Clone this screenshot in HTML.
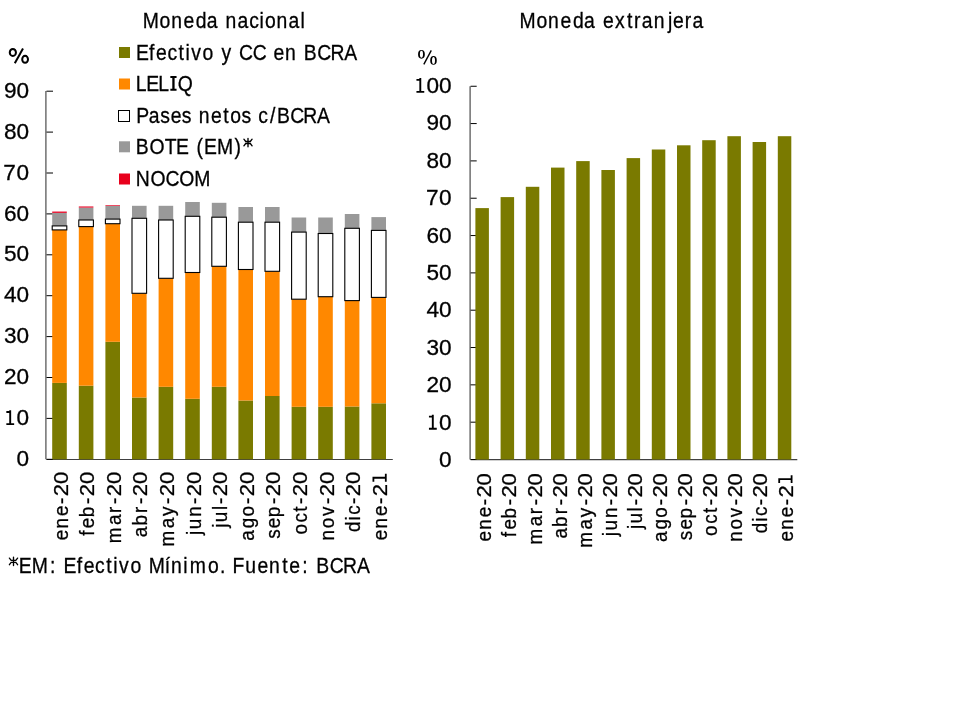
<!DOCTYPE html>
<html><head><meta charset="utf-8"><style>
html,body{margin:0;padding:0;background:#fff;width:960px;height:720px;overflow:hidden}
svg{display:block;will-change:transform}
text{font-family:"Liberation Sans",sans-serif;fill:#000;stroke:#000;stroke-width:0.3px}
.t21{font-size:21px}
.t20{font-size:20px}
.t19s{font-family:"Liberation Serif",serif;font-size:20px}
</style></head><body>
<svg width="960" height="720" viewBox="0 0 960 720">
<line x1="45.9" y1="91" x2="45.9" y2="459.3" stroke="#585858" stroke-width="1.3"/>
<line x1="46.5" y1="459.5" x2="392.8" y2="459.5" stroke="#404040" stroke-width="1.2"/>
<line x1="46.5" y1="459.30" x2="53" y2="459.30" stroke="#000" stroke-width="1"/>
<line x1="46.5" y1="418.40" x2="53" y2="418.40" stroke="#000" stroke-width="1"/>
<line x1="46.5" y1="377.50" x2="53" y2="377.50" stroke="#000" stroke-width="1"/>
<line x1="46.5" y1="336.60" x2="53" y2="336.60" stroke="#000" stroke-width="1"/>
<line x1="46.5" y1="295.70" x2="53" y2="295.70" stroke="#000" stroke-width="1"/>
<line x1="46.5" y1="254.80" x2="53" y2="254.80" stroke="#000" stroke-width="1"/>
<line x1="46.5" y1="213.90" x2="53" y2="213.90" stroke="#000" stroke-width="1"/>
<line x1="46.5" y1="173.00" x2="53" y2="173.00" stroke="#000" stroke-width="1"/>
<line x1="46.5" y1="132.10" x2="53" y2="132.10" stroke="#000" stroke-width="1"/>
<line x1="46.5" y1="91.20" x2="53" y2="91.20" stroke="#000" stroke-width="1"/>
<rect x="52.20" y="382.9" width="14.6" height="76.40" fill="#7a7a00"/>
<rect x="52.20" y="229.9" width="14.6" height="153.00" fill="#ff8800"/>
<rect x="52.20" y="213.0" width="14.6" height="12.90" fill="#999999"/>
<rect x="52.20" y="211.5" width="14.6" height="1.50" fill="#e8203c"/>
<rect x="52.20" y="225.9" width="14.6" height="4.00" fill="#fff" stroke="#000" stroke-width="1.1"/>
<rect x="78.80" y="385.7" width="14.6" height="73.60" fill="#7a7a00"/>
<rect x="78.80" y="226.6" width="14.6" height="159.10" fill="#ff8800"/>
<rect x="78.80" y="207.7" width="14.6" height="12.30" fill="#999999"/>
<rect x="78.80" y="206.39999999999998" width="14.6" height="1.30" fill="#e8203c"/>
<rect x="78.80" y="220.0" width="14.6" height="6.60" fill="#fff" stroke="#000" stroke-width="1.1"/>
<rect x="105.40" y="341.8" width="14.6" height="117.50" fill="#7a7a00"/>
<rect x="105.40" y="223.7" width="14.6" height="118.10" fill="#ff8800"/>
<rect x="105.40" y="206.0" width="14.6" height="13.10" fill="#999999"/>
<rect x="105.40" y="205.2" width="14.6" height="0.80" fill="#e8203c"/>
<rect x="105.40" y="219.1" width="14.6" height="4.60" fill="#fff" stroke="#000" stroke-width="1.1"/>
<rect x="132.00" y="397.5" width="14.6" height="61.80" fill="#7a7a00"/>
<rect x="132.00" y="293.3" width="14.6" height="104.20" fill="#ff8800"/>
<rect x="132.00" y="205.8" width="14.6" height="12.50" fill="#999999"/>
<rect x="132.00" y="218.3" width="14.6" height="75.00" fill="#fff" stroke="#000" stroke-width="1.1"/>
<rect x="158.60" y="386.8" width="14.6" height="72.50" fill="#7a7a00"/>
<rect x="158.60" y="278.3" width="14.6" height="108.50" fill="#ff8800"/>
<rect x="158.60" y="205.8" width="14.6" height="14.20" fill="#999999"/>
<rect x="158.60" y="220.0" width="14.6" height="58.30" fill="#fff" stroke="#000" stroke-width="1.1"/>
<rect x="185.20" y="398.8" width="14.6" height="60.50" fill="#7a7a00"/>
<rect x="185.20" y="272.5" width="14.6" height="126.30" fill="#ff8800"/>
<rect x="185.20" y="202.0" width="14.6" height="14.30" fill="#999999"/>
<rect x="185.20" y="216.3" width="14.6" height="56.20" fill="#fff" stroke="#000" stroke-width="1.1"/>
<rect x="211.80" y="386.8" width="14.6" height="72.50" fill="#7a7a00"/>
<rect x="211.80" y="266.3" width="14.6" height="120.50" fill="#ff8800"/>
<rect x="211.80" y="202.8" width="14.6" height="14.40" fill="#999999"/>
<rect x="211.80" y="217.2" width="14.6" height="49.10" fill="#fff" stroke="#000" stroke-width="1.1"/>
<rect x="238.40" y="400.5" width="14.6" height="58.80" fill="#7a7a00"/>
<rect x="238.40" y="269.5" width="14.6" height="131.00" fill="#ff8800"/>
<rect x="238.40" y="207.0" width="14.6" height="15.20" fill="#999999"/>
<rect x="238.40" y="222.2" width="14.6" height="47.30" fill="#fff" stroke="#000" stroke-width="1.1"/>
<rect x="265.00" y="396.0" width="14.6" height="63.30" fill="#7a7a00"/>
<rect x="265.00" y="271.3" width="14.6" height="124.70" fill="#ff8800"/>
<rect x="265.00" y="207.0" width="14.6" height="15.20" fill="#999999"/>
<rect x="265.00" y="222.2" width="14.6" height="49.10" fill="#fff" stroke="#000" stroke-width="1.1"/>
<rect x="291.60" y="406.8" width="14.6" height="52.50" fill="#7a7a00"/>
<rect x="291.60" y="299.2" width="14.6" height="107.60" fill="#ff8800"/>
<rect x="291.60" y="217.5" width="14.6" height="14.60" fill="#999999"/>
<rect x="291.60" y="232.1" width="14.6" height="67.10" fill="#fff" stroke="#000" stroke-width="1.1"/>
<rect x="318.20" y="406.8" width="14.6" height="52.50" fill="#7a7a00"/>
<rect x="318.20" y="296.7" width="14.6" height="110.10" fill="#ff8800"/>
<rect x="318.20" y="217.5" width="14.6" height="16.00" fill="#999999"/>
<rect x="318.20" y="233.5" width="14.6" height="63.20" fill="#fff" stroke="#000" stroke-width="1.1"/>
<rect x="344.80" y="406.5" width="14.6" height="52.80" fill="#7a7a00"/>
<rect x="344.80" y="300.6" width="14.6" height="105.90" fill="#ff8800"/>
<rect x="344.80" y="214.0" width="14.6" height="14.30" fill="#999999"/>
<rect x="344.80" y="228.3" width="14.6" height="72.30" fill="#fff" stroke="#000" stroke-width="1.1"/>
<rect x="371.40" y="403.3" width="14.6" height="56.00" fill="#7a7a00"/>
<rect x="371.40" y="297.4" width="14.6" height="105.90" fill="#ff8800"/>
<rect x="371.40" y="217.1" width="14.6" height="13.30" fill="#999999"/>
<rect x="371.40" y="230.4" width="14.6" height="67.00" fill="#fff" stroke="#000" stroke-width="1.1"/>
<text transform="translate(0,465.90) scale(1.05,1)" x="15.62" y="0" style="font-size:21.5px">0</text>
<path fill="#000" d="M9.25,410.20h1.9v13.00h3.0v1.8h-7.8v-1.8h2.9v-10.3h-2.9v-1.8h2.9z"/>
<text transform="translate(0,425.00) scale(1.05,1)" x="15.62" y="0" style="font-size:21.5px">0</text>
<text transform="translate(0,384.10) scale(1.05,1)" x="3.71" y="0" style="font-size:21.5px">2</text>
<text transform="translate(0,384.10) scale(1.05,1)" x="15.62" y="0" style="font-size:21.5px">0</text>
<text transform="translate(0,343.20) scale(1.05,1)" x="3.71" y="0" style="font-size:21.5px">3</text>
<text transform="translate(0,343.20) scale(1.05,1)" x="15.62" y="0" style="font-size:21.5px">0</text>
<text transform="translate(0,302.30) scale(1.05,1)" x="3.71" y="0" style="font-size:21.5px">4</text>
<text transform="translate(0,302.30) scale(1.05,1)" x="15.62" y="0" style="font-size:21.5px">0</text>
<text transform="translate(0,261.40) scale(1.05,1)" x="3.71" y="0" style="font-size:21.5px">5</text>
<text transform="translate(0,261.40) scale(1.05,1)" x="15.62" y="0" style="font-size:21.5px">0</text>
<text transform="translate(0,220.50) scale(1.05,1)" x="3.71" y="0" style="font-size:21.5px">6</text>
<text transform="translate(0,220.50) scale(1.05,1)" x="15.62" y="0" style="font-size:21.5px">0</text>
<text transform="translate(0,179.60) scale(1.05,1)" x="3.21" y="0" style="font-size:21.5px">7</text>
<text transform="translate(0,179.60) scale(1.05,1)" x="15.62" y="0" style="font-size:21.5px">0</text>
<text transform="translate(0,138.70) scale(1.05,1)" x="3.71" y="0" style="font-size:21.5px">8</text>
<text transform="translate(0,138.70) scale(1.05,1)" x="15.62" y="0" style="font-size:21.5px">0</text>
<text transform="translate(0,97.80) scale(1.05,1)" x="3.71" y="0" style="font-size:21.5px">9</text>
<text transform="translate(0,97.80) scale(1.05,1)" x="15.62" y="0" style="font-size:21.5px">0</text>
<g transform="translate(67.50,471.50) rotate(-90)"><text transform="translate(0,0) scale(0.9,1)" x="-76.40 -63.42 -49.43 -36.16" y="0" style="font-size:21px">ene-</text><text transform="translate(0,0) scale(1.05,1)" x="-23.46 -12.00" y="0" style="font-size:21px">20</text></g>
<g transform="translate(94.10,471.50) rotate(-90)"><text transform="translate(0,0) scale(0.9,1)" x="-71.51 -63.10 -50.73 -36.16" y="0" style="font-size:21px">feb-</text><text transform="translate(0,0) scale(1.05,1)" x="-23.46 -12.00" y="0" style="font-size:21px">20</text></g>
<g transform="translate(120.70,471.50) rotate(-90)"><text transform="translate(0,0) scale(0.9,1)" x="-79.63 -59.36 -46.08 -36.16" y="0" style="font-size:21px">mar-</text><text transform="translate(0,0) scale(1.05,1)" x="-23.46 -12.00" y="0" style="font-size:21px">20</text></g>
<g transform="translate(147.30,471.50) rotate(-90)"><text transform="translate(0,0) scale(0.9,1)" x="-73.03 -60.10 -46.08 -36.16" y="0" style="font-size:21px">abr-</text><text transform="translate(0,0) scale(1.05,1)" x="-23.46 -12.00" y="0" style="font-size:21px">20</text></g>
<g transform="translate(173.90,471.50) rotate(-90)"><text transform="translate(0,0) scale(0.9,1)" x="-83.25 -62.98 -49.39 -36.16" y="0" style="font-size:21px">may-</text><text transform="translate(0,0) scale(1.05,1)" x="-23.46 -12.00" y="0" style="font-size:21px">20</text></g>
<g transform="translate(200.50,471.50) rotate(-90)"><text transform="translate(0,0) scale(0.9,1)" x="-70.45 -64.23 -50.34 -36.16" y="0" style="font-size:21px">jun-</text><text transform="translate(0,0) scale(1.05,1)" x="-23.46 -12.00" y="0" style="font-size:21px">20</text></g>
<g transform="translate(227.10,471.50) rotate(-90)"><text transform="translate(0,0) scale(0.9,1)" x="-62.57 -56.35 -42.90 -36.16" y="0" style="font-size:21px">jul-</text><text transform="translate(0,0) scale(1.05,1)" x="-23.46 -12.00" y="0" style="font-size:21px">20</text></g>
<g transform="translate(253.70,471.50) rotate(-90)"><text transform="translate(0,0) scale(0.9,1)" x="-76.98 -63.05 -50.05 -36.16" y="0" style="font-size:21px">ago-</text><text transform="translate(0,0) scale(1.05,1)" x="-23.46 -12.00" y="0" style="font-size:21px">20</text></g>
<g transform="translate(280.30,471.50) rotate(-90)"><text transform="translate(0,0) scale(0.9,1)" x="-74.86 -63.10 -50.73 -36.16" y="0" style="font-size:21px">sep-</text><text transform="translate(0,0) scale(1.05,1)" x="-23.46 -12.00" y="0" style="font-size:21px">20</text></g>
<g transform="translate(306.90,471.50) rotate(-90)"><text transform="translate(0,0) scale(0.9,1)" x="-70.13 -56.76 -44.72 -36.16" y="0" style="font-size:21px">oct-</text><text transform="translate(0,0) scale(1.05,1)" x="-23.46 -12.00" y="0" style="font-size:21px">20</text></g>
<g transform="translate(333.50,471.50) rotate(-90)"><text transform="translate(0,0) scale(0.9,1)" x="-76.65 -63.04 -49.39 -36.16" y="0" style="font-size:21px">nov-</text><text transform="translate(0,0) scale(1.05,1)" x="-23.46 -12.00" y="0" style="font-size:21px">20</text></g>
<g transform="translate(360.10,471.50) rotate(-90)"><text transform="translate(0,0) scale(0.9,1)" x="-67.17 -54.33 -48.11 -36.16" y="0" style="font-size:21px">dic-</text><text transform="translate(0,0) scale(1.05,1)" x="-23.46 -12.00" y="0" style="font-size:21px">20</text></g>
<g transform="translate(386.70,471.50) rotate(-90)"><path fill="#000" d="M-7.25,-14.20h1.9v12.40h3.0v1.8h-7.8v-1.8h2.9v-10.60h-2.9v-1.8h2.9z"/><text transform="translate(0,0) scale(0.9,1)" x="-76.40 -63.42 -49.43 -36.16" y="0" style="font-size:21px">ene-</text><text transform="translate(0,0) scale(1.05,1)" x="-23.46" y="0" style="font-size:21px">2</text></g>
<line x1="470.1" y1="86.25" x2="470.1" y2="459.5" stroke="#585858" stroke-width="1.3"/>
<line x1="470.6" y1="459.7" x2="797.3" y2="459.7" stroke="#404040" stroke-width="1.2"/>
<line x1="470.6" y1="459.50" x2="476.7" y2="459.50" stroke="#000" stroke-width="1"/>
<line x1="470.6" y1="422.18" x2="476.7" y2="422.18" stroke="#000" stroke-width="1"/>
<line x1="470.6" y1="384.85" x2="476.7" y2="384.85" stroke="#000" stroke-width="1"/>
<line x1="470.6" y1="347.52" x2="476.7" y2="347.52" stroke="#000" stroke-width="1"/>
<line x1="470.6" y1="310.20" x2="476.7" y2="310.20" stroke="#000" stroke-width="1"/>
<line x1="470.6" y1="272.88" x2="476.7" y2="272.88" stroke="#000" stroke-width="1"/>
<line x1="470.6" y1="235.55" x2="476.7" y2="235.55" stroke="#000" stroke-width="1"/>
<line x1="470.6" y1="198.22" x2="476.7" y2="198.22" stroke="#000" stroke-width="1"/>
<line x1="470.6" y1="160.90" x2="476.7" y2="160.90" stroke="#000" stroke-width="1"/>
<line x1="470.6" y1="123.57" x2="476.7" y2="123.57" stroke="#000" stroke-width="1"/>
<line x1="470.6" y1="86.25" x2="476.7" y2="86.25" stroke="#000" stroke-width="1"/>
<rect x="475.40" y="208.1" width="13.5" height="251.40" fill="#7a7a00"/>
<rect x="500.60" y="197.1" width="13.5" height="262.40" fill="#7a7a00"/>
<rect x="525.80" y="186.8" width="13.5" height="272.70" fill="#7a7a00"/>
<rect x="551.00" y="167.6" width="13.5" height="291.90" fill="#7a7a00"/>
<rect x="576.20" y="161.1" width="13.5" height="298.40" fill="#7a7a00"/>
<rect x="601.40" y="170.0" width="13.5" height="289.50" fill="#7a7a00"/>
<rect x="626.60" y="158.1" width="13.5" height="301.40" fill="#7a7a00"/>
<rect x="651.80" y="149.5" width="13.5" height="310.00" fill="#7a7a00"/>
<rect x="677.00" y="145.3" width="13.5" height="314.20" fill="#7a7a00"/>
<rect x="702.20" y="140.2" width="13.5" height="319.30" fill="#7a7a00"/>
<rect x="727.40" y="136.2" width="13.5" height="323.30" fill="#7a7a00"/>
<rect x="752.60" y="142.0" width="13.5" height="317.50" fill="#7a7a00"/>
<rect x="777.80" y="136.2" width="13.5" height="323.30" fill="#7a7a00"/>
<text transform="translate(0,467.10) scale(1.05,1)" x="418.10" y="0" style="font-size:21.5px">0</text>
<path fill="#000" d="M431.85,414.87h1.9v13.00h3.0v1.8h-7.8v-1.8h2.9v-10.3h-2.9v-1.8h2.9z"/>
<text transform="translate(0,429.67) scale(1.05,1)" x="418.10" y="0" style="font-size:21.5px">0</text>
<text transform="translate(0,392.24) scale(1.05,1)" x="406.19" y="0" style="font-size:21.5px">2</text>
<text transform="translate(0,392.24) scale(1.05,1)" x="418.10" y="0" style="font-size:21.5px">0</text>
<text transform="translate(0,354.81) scale(1.05,1)" x="406.19" y="0" style="font-size:21.5px">3</text>
<text transform="translate(0,354.81) scale(1.05,1)" x="418.10" y="0" style="font-size:21.5px">0</text>
<text transform="translate(0,317.38) scale(1.05,1)" x="406.19" y="0" style="font-size:21.5px">4</text>
<text transform="translate(0,317.38) scale(1.05,1)" x="418.10" y="0" style="font-size:21.5px">0</text>
<text transform="translate(0,279.95) scale(1.05,1)" x="406.19" y="0" style="font-size:21.5px">5</text>
<text transform="translate(0,279.95) scale(1.05,1)" x="418.10" y="0" style="font-size:21.5px">0</text>
<text transform="translate(0,242.52) scale(1.05,1)" x="406.19" y="0" style="font-size:21.5px">6</text>
<text transform="translate(0,242.52) scale(1.05,1)" x="418.10" y="0" style="font-size:21.5px">0</text>
<text transform="translate(0,205.09) scale(1.05,1)" x="405.69" y="0" style="font-size:21.5px">7</text>
<text transform="translate(0,205.09) scale(1.05,1)" x="418.10" y="0" style="font-size:21.5px">0</text>
<text transform="translate(0,167.66) scale(1.05,1)" x="406.19" y="0" style="font-size:21.5px">8</text>
<text transform="translate(0,167.66) scale(1.05,1)" x="418.10" y="0" style="font-size:21.5px">0</text>
<text transform="translate(0,130.23) scale(1.05,1)" x="406.19" y="0" style="font-size:21.5px">9</text>
<text transform="translate(0,130.23) scale(1.05,1)" x="418.10" y="0" style="font-size:21.5px">0</text>
<path fill="#000" d="M419.35,78.00h1.9v13.00h3.0v1.8h-7.8v-1.8h2.9v-10.3h-2.9v-1.8h2.9z"/>
<text transform="translate(0,92.80) scale(1.05,1)" x="406.19" y="0" style="font-size:21.5px">0</text>
<text transform="translate(0,92.80) scale(1.05,1)" x="418.10" y="0" style="font-size:21.5px">0</text>
<g transform="translate(491.30,472.80) rotate(-90)"><text transform="translate(0,0) scale(0.9,1)" x="-76.40 -63.42 -49.43 -36.16" y="0" style="font-size:21px">ene-</text><text transform="translate(0,0) scale(1.05,1)" x="-23.46 -12.00" y="0" style="font-size:21px">20</text></g>
<g transform="translate(516.40,472.80) rotate(-90)"><text transform="translate(0,0) scale(0.9,1)" x="-71.51 -63.10 -50.73 -36.16" y="0" style="font-size:21px">feb-</text><text transform="translate(0,0) scale(1.05,1)" x="-23.46 -12.00" y="0" style="font-size:21px">20</text></g>
<g transform="translate(541.50,472.80) rotate(-90)"><text transform="translate(0,0) scale(0.9,1)" x="-79.63 -59.36 -46.08 -36.16" y="0" style="font-size:21px">mar-</text><text transform="translate(0,0) scale(1.05,1)" x="-23.46 -12.00" y="0" style="font-size:21px">20</text></g>
<g transform="translate(566.60,472.80) rotate(-90)"><text transform="translate(0,0) scale(0.9,1)" x="-73.03 -60.10 -46.08 -36.16" y="0" style="font-size:21px">abr-</text><text transform="translate(0,0) scale(1.05,1)" x="-23.46 -12.00" y="0" style="font-size:21px">20</text></g>
<g transform="translate(591.70,472.80) rotate(-90)"><text transform="translate(0,0) scale(0.9,1)" x="-83.25 -62.98 -49.39 -36.16" y="0" style="font-size:21px">may-</text><text transform="translate(0,0) scale(1.05,1)" x="-23.46 -12.00" y="0" style="font-size:21px">20</text></g>
<g transform="translate(616.80,472.80) rotate(-90)"><text transform="translate(0,0) scale(0.9,1)" x="-70.45 -64.23 -50.34 -36.16" y="0" style="font-size:21px">jun-</text><text transform="translate(0,0) scale(1.05,1)" x="-23.46 -12.00" y="0" style="font-size:21px">20</text></g>
<g transform="translate(641.90,472.80) rotate(-90)"><text transform="translate(0,0) scale(0.9,1)" x="-62.57 -56.35 -42.90 -36.16" y="0" style="font-size:21px">jul-</text><text transform="translate(0,0) scale(1.05,1)" x="-23.46 -12.00" y="0" style="font-size:21px">20</text></g>
<g transform="translate(667.00,472.80) rotate(-90)"><text transform="translate(0,0) scale(0.9,1)" x="-76.98 -63.05 -50.05 -36.16" y="0" style="font-size:21px">ago-</text><text transform="translate(0,0) scale(1.05,1)" x="-23.46 -12.00" y="0" style="font-size:21px">20</text></g>
<g transform="translate(692.10,472.80) rotate(-90)"><text transform="translate(0,0) scale(0.9,1)" x="-74.86 -63.10 -50.73 -36.16" y="0" style="font-size:21px">sep-</text><text transform="translate(0,0) scale(1.05,1)" x="-23.46 -12.00" y="0" style="font-size:21px">20</text></g>
<g transform="translate(717.20,472.80) rotate(-90)"><text transform="translate(0,0) scale(0.9,1)" x="-70.13 -56.76 -44.72 -36.16" y="0" style="font-size:21px">oct-</text><text transform="translate(0,0) scale(1.05,1)" x="-23.46 -12.00" y="0" style="font-size:21px">20</text></g>
<g transform="translate(742.30,472.80) rotate(-90)"><text transform="translate(0,0) scale(0.9,1)" x="-76.65 -63.04 -49.39 -36.16" y="0" style="font-size:21px">nov-</text><text transform="translate(0,0) scale(1.05,1)" x="-23.46 -12.00" y="0" style="font-size:21px">20</text></g>
<g transform="translate(767.40,472.80) rotate(-90)"><text transform="translate(0,0) scale(0.9,1)" x="-67.17 -54.33 -48.11 -36.16" y="0" style="font-size:21px">dic-</text><text transform="translate(0,0) scale(1.05,1)" x="-23.46 -12.00" y="0" style="font-size:21px">20</text></g>
<g transform="translate(792.50,472.80) rotate(-90)"><path fill="#000" d="M-7.25,-14.20h1.9v12.40h3.0v1.8h-7.8v-1.8h2.9v-10.60h-2.9v-1.8h2.9z"/><text transform="translate(0,0) scale(0.9,1)" x="-76.40 -63.42 -49.43 -36.16" y="0" style="font-size:21px">ene-</text><text transform="translate(0,0) scale(1.05,1)" x="-23.46" y="0" style="font-size:21px">2</text></g>
<text transform="translate(0,28) scale(0.9,1)" x="158.72 177.33 190.18 203.90 217.52 229.70 250.56 263.84 276.91 288.47 294.45 307.30 320.58 334.00" y="0" style="font-size:21.5px">Monedanacional</text>
<text transform="translate(0,28) scale(0.9,1)" x="577.33 596.06 609.02 622.85 636.57 648.85 669.98 683.36 696.56 704.47 713.12 726.51 742.11 747.80 760.90 769.56" y="0" style="font-size:21.5px">Monedaextranjera</text>
<g fill="none" stroke="#000"><ellipse cx="12.85" cy="52.4" rx="3.1" ry="3.5" stroke-width="2"/><ellipse cx="25.1" cy="59.3" rx="2.9" ry="3.5" stroke-width="2"/><line x1="14.8" y1="63.2" x2="23.0" y2="48.5" stroke-width="2"/></g>
<path fill="#000" fill-rule="evenodd" d="M418.05,54.3 a3.4,4.35 0 1,0 6.8,0 a3.4,4.35 0 1,0 -6.8,0 Z M419.9,54.3 a1.55,3.45 0 1,0 3.1,0 a1.55,3.45 0 1,0 -3.1,0 Z M430.2,60.4 a3.3,4.4 0 1,0 6.6,0 a3.3,4.4 0 1,0 -6.6,0 Z M432.0,60.4 a1.5,3.5 0 1,0 3.0,0 a1.5,3.5 0 1,0 -3.0,0 Z"/><line x1="423.8" y1="64.3" x2="431.3" y2="50.4" stroke="#000" stroke-width="1.4"/>
<rect x="119" y="47" width="11" height="11" fill="#7a7a00"/>
<text transform="translate(0,60) scale(0.9,1)" x="151.00 165.65 173.41 186.00 198.40 206.13 212.50 224.98 246.07 265.65 280.76 303.88 316.68 337.58 352.56 367.13 382.56" y="0" style="font-size:21.5px">EfectivoyCCenBCRA</text>
<rect x="119" y="78.5" width="11" height="11" fill="#ff8800"/>
<path fill="#000" d="M170.35,76.00h6.2v2h-1.95v10.80h1.95v2h-6.2v-2h1.95v-10.80h-1.95z"/>
<text transform="translate(0,90.8) scale(0.9,1)" x="150.89 162.41 175.93 197.44" y="0" style="font-size:21.5px">LELQ</text>
<rect x="118.5" y="110.5" width="11" height="11" fill="#fff" stroke="#000" stroke-width="1"/>
<text transform="translate(0,122.9) scale(0.9,1)" x="151.33 165.20 178.20 189.64 202.08 220.94 234.57 248.16 255.86 268.41 287.08 300.00 307.69 322.48 336.87 352.11" y="0" style="font-size:21.5px">Pasesnetosc/BCRA</text>
<rect x="119" y="141.3" width="11" height="11" fill="#999999"/>
<path fill="none" stroke="#000" stroke-width="1.35" stroke-linecap="round" d="M248.00,138.30V146.70M243.90,139.20L245.70,141.50H250.30L252.10,139.20M243.90,145.80L245.70,143.50H250.30L252.10,145.80"/>
<text transform="translate(0,153.6) scale(0.9,1)" x="150.78 166.24 182.94 195.47 218.37 226.64 241.12 260.68" y="0" style="font-size:21.5px">BOTE(EM)</text>
<rect x="119" y="173.5" width="11" height="11" fill="#e8001c"/>
<text transform="translate(0,185.9) scale(0.9,1)" x="150.78 167.29 183.77 199.24 215.78" y="0" style="font-size:21.5px">NOCOM</text>
<path fill="none" stroke="#000" stroke-width="1.35" stroke-linecap="round" d="M13.50,557.20V565.60M9.40,558.10L11.20,560.40H15.80L17.60,558.10M9.40,564.70L11.20,562.40H15.80L17.60,564.70"/>
<text transform="translate(0,572.5) scale(0.9,1)" x="20.87 35.42 55.54 70.52 85.23 93.05 105.70 118.16 125.93 132.36 144.91 165.35 183.01 189.88 203.75 210.82 231.02 244.59 258.47 272.62 286.00 298.87 313.55 321.32 335.75 351.32 366.39 381.05 396.56" y="0" style="font-size:21.5px">EM:EfectivoMínimo.Fuente:BCRA</text>
</svg>
</body></html>
